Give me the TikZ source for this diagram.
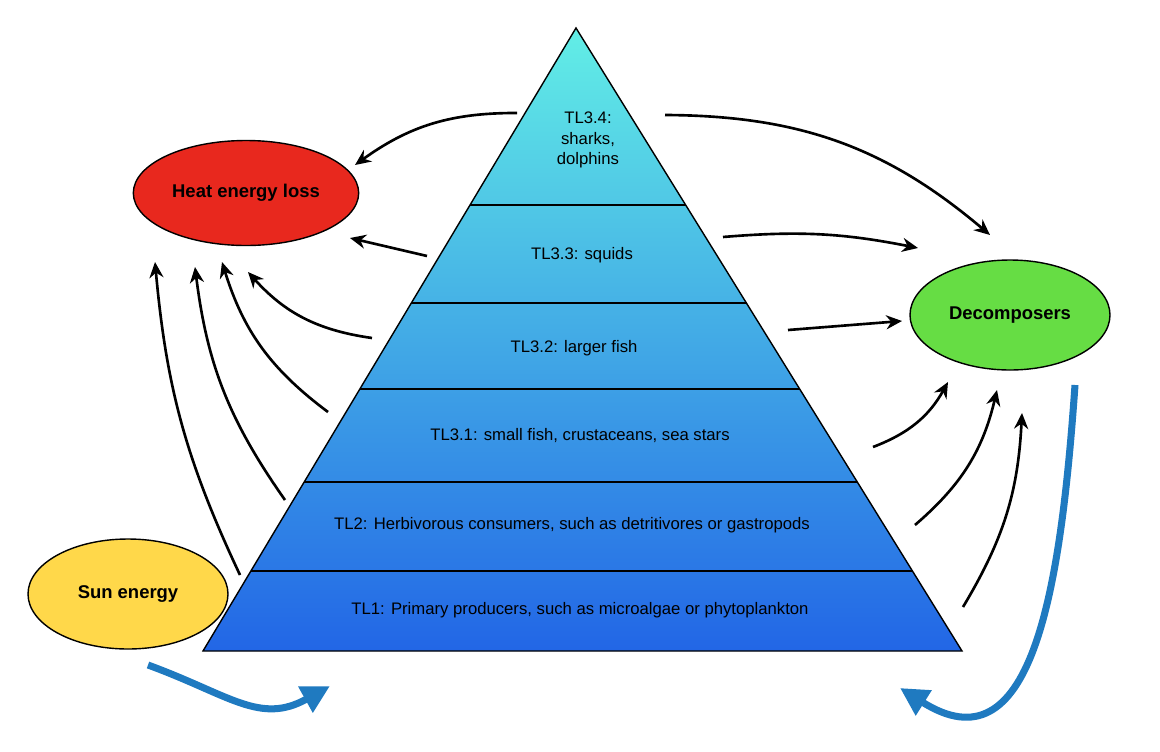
\documentclass[tikz,border=0pt]{standalone}
\usepackage{fontspec}
\setmainfont{Liberation Sans}
\usetikzlibrary{arrows.meta, shapes.geometric}
\definecolor{heatred}{HTML}{E8281E}
\definecolor{decgreen}{HTML}{66DD44}
\definecolor{sunyellow}{HTML}{FFD84A}
\definecolor{flowblue}{HTML}{1F7AC0}
\definecolor{topcyan}{HTML}{62EEE6}
\definecolor{botblue}{HTML}{2266E6}
\begin{document}
\begin{tikzpicture}[x=0.02cm, y=-0.02cm, font=\fontsize{9.5}{11.5}\selectfont]

\tikzset{blob/.style = {shape=ellipse, draw, thick, minimum width=200*0.02cm, minimum height=105*0.02cm, font=\fontsize{10.5}{12}\selectfont\bfseries}}
\tikzset{flow/.style = {-{Stealth[length=9pt,width=8pt]}, line width=1.5pt}}
\tikzset{big/.style = {-{Triangle[length=16pt,width=16pt]}, line width=4pt, flowblue}}
\tikzset{level/.style = {align=center}}
\useasboundingbox (0,0) rectangle (1160,751);

% pyramid
\shade[top color=topcyan, bottom color=botblue, draw=black, thick]
  (576,28) -- (962,651) -- (203,651) -- cycle;
\foreach \y in {205,303,389,482,571}
  \draw[thick] ({576-(\y-28)*0.5987},\y) -- ({576+(\y-28)*0.6196},\y);

% levels
\node[level] (tl34) at (588,140) {TL3.4:\\sharks,\\dolphins};
\node[level] (tl33) at (582,255) {TL3.3: squids};
\node[level] (tl32) at (574,348) {TL3.2: larger fish};
\node[level] (tl31) at (580,436) {TL3.1: small fish, crustaceans, sea stars};
\node[level] (tl2) at (572,525) {TL2: Herbivorous consumers, such as detritivores or gastropods};
\node[level] (tl1) at (580,610) {TL1: Primary producers, such as microalgae or phytoplankton};

% ellipses
\node[blob, fill=heatred] (heat) at (246,193) {Heat energy loss};
\node[blob, fill=decgreen, minimum height=110*0.02cm] (dec) at (1010,315) {Decomposers};
\node[blob, fill=sunyellow, minimum height=110*0.02cm] (sun) at (128,594) {Sun energy};

% arrow ends
\coordinate (h1s) at (517,113); \coordinate (h1e) at (355,165);
\coordinate (h2s) at (427,256); \coordinate (h2e) at (350,238);
\coordinate (h3s) at (372,338); \coordinate (h3e) at (248,272);
\coordinate (h4s) at (328,412); \coordinate (h4e) at (222,262);
\coordinate (h5s) at (285,500); \coordinate (h5e) at (195,267);
\coordinate (h6s) at (240,575); \coordinate (h6e) at (155,262);
\coordinate (d1s) at (665,115); \coordinate (d1e) at (990,235);
\coordinate (d2s) at (723,237); \coordinate (d2e) at (918,248);
\coordinate (d3s) at (788,330); \coordinate (d3e) at (902,321);
\coordinate (d4s) at (873,447); \coordinate (d4e) at (948,382);
\coordinate (d5s) at (915,525); \coordinate (d5e) at (997,390);
\coordinate (d6s) at (963,607); \coordinate (d6e) at (1022,413);
\coordinate (s1) at (148,665); \coordinate (s2) at (330,686);
\coordinate (r1) at (1075,385); \coordinate (r2) at (900,688);

% heat arrows
\draw[flow] (h1s) to[bend right=18] (h1e);
\draw[flow] (h2s) to (h2e);
\draw[flow] (h3s) to[bend left=20] (h3e);
\draw[flow] (h4s) to[bend left=18] (h4e);
\draw[flow] (h5s) to[bend left=14] (h5e);
\draw[flow] (h6s) to[bend left=10] (h6e);
% decomposer arrows
\draw[flow] (d1s) to[bend left=20] (d1e);
\draw[flow] (d2s) to[bend left=8] (d2e);
\draw[flow] (d3s) to (d3e);
\draw[flow] (d4s) to[bend right=20] (d4e);
\draw[flow] (d5s) to[bend right=18] (d5e);
\draw[flow] (d6s) to[bend right=14] (d6e);
% energy flow
\draw[big] (s1) .. controls (230,695) and (260,725) .. (s2);
\draw[big] (r1) .. controls (1060,600) and (1030,770) .. (r2);
\end{tikzpicture}
\end{document}
